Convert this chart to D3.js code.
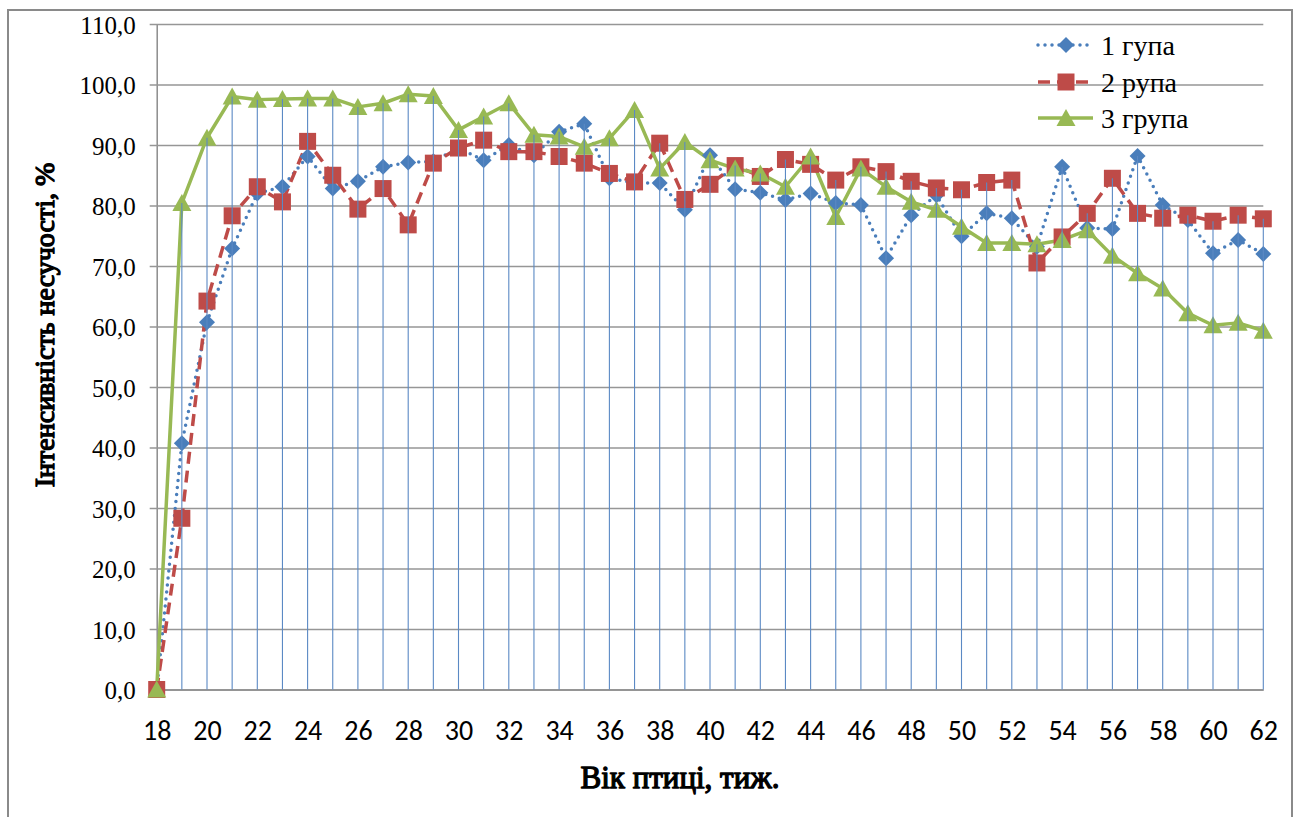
<!DOCTYPE html>
<html>
<head>
<meta charset="utf-8">
<script src="https://cdn.jsdelivr.net/npm/d3@7"></script>
<style>
  html, body { margin: 0; padding: 0; background: #fff; }
  svg { display: block; }
</style>
</head>
<body>
<svg id="chart" width="1298" height="817"></svg>
<script>
// ---- data ----
const weeks = [18,19,20,21,22,23,24,25,26,27,28,29,30,31,32,33,34,35,36,37,38,39,40,
               41,42,43,44,45,46,47,48,49,50,51,52,53,54,55,56,57,58,59,60,61,62];
const xTickLabels = [18,20,22,24,26,28,30,32,34,36,38,40,42,44,46,48,50,52,54,56,58,60,62];
const yTickValues = [0,10,20,30,40,50,60,70,80,90,100,110];
const seriesNames = ["1 гупа", "2 рупа", "3 група"];
const group1 = [0,40.7,60.7,72.9,82.0,83.1,88.1,82.8,84.0,86.4,87.1,87.3,89.5,87.5,90.0,88.3,92.2,93.5,84.5,83.7,83.7,79.3,88.3,
                82.7,82.1,80.9,82.0,80.4,80.1,71.3,78.4,81.7,74.9,78.7,77.9,73.2,86.4,76.3,76.1,88.2,80.1,77.6,72.1,74.3,72.0];
const group2 = [0,28.3,64.2,78.3,83.1,80.6,90.6,85.0,79.4,82.8,76.8,87.0,89.5,90.8,88.9,88.9,88.1,87.0,85.3,83.9,90.3,81.0,83.5,
                86.6,84.8,87.6,86.8,84.2,86.4,85.6,84.0,82.9,82.6,83.8,84.2,70.5,74.8,78.7,84.5,78.7,77.9,78.4,77.4,78.4,77.8];
const group3 = [0,80.4,91.2,98.0,97.5,97.6,97.7,97.7,96.3,96.9,98.4,98.1,92.5,94.7,96.9,91.7,91.4,89.7,91.1,95.8,86.1,90.5,87.5,
                86.1,85.3,83.1,88.1,78.1,86.1,83.1,80.6,79.3,76.5,73.8,73.8,73.6,74.3,75.9,71.7,68.8,66.3,62.2,60.2,60.6,59.3];

const colors = ["#4A7EBB", "#BE4B48", "#98B954"];
const seriesData = [group1, group2, group3];
const SERIF = "Liberation Serif";
const SANS = "Carlito";

// ---- layout ----
const svg = d3.select("#chart");
const L = 156.7, R = 1263.3, T = 24, B = 689.5;
const x = d3.scaleLinear().domain([18, 62]).range([L, R]);
const y = d3.scaleLinear().domain([0, 110]).range([B, T]);

// outer frame
svg.append("rect").attr("x", 8).attr("y", 10).attr("width", 1284).attr("height", 830)
  .attr("fill", "#fff").attr("stroke", "#8a8a8a").attr("stroke-width", 2);

// horizontal gridlines + y axis
const yAxis = d3.axisLeft(y).tickValues(yTickValues)
  .tickSize(-(R - L)).tickSizeOuter(0)
  .tickFormat(d => d3.format(".1f")(d).replace(".", ","));
const gy = svg.append("g").attr("transform", `translate(${L},0)`).call(yAxis);
gy.attr("font-family", null).attr("font-size", null);
gy.select(".domain").attr("stroke", "#8c8c8c").attr("stroke-width", 1.5);
gy.selectAll(".tick line").attr("stroke", "#969696").attr("stroke-width", 1.5).attr("x1", -7);
gy.selectAll(".tick text")
  .style("font-family", SERIF).style("font-size", "25px")
  .attr("x", -21).attr("dy", "0.36em").attr("fill", "#000");

// x axis
const xAxis = d3.axisBottom(x).tickValues(xTickLabels).tickSize(0).tickSizeOuter(0).tickFormat(d => d);
const gx = svg.append("g").attr("transform", `translate(0,${B})`).call(xAxis);
gx.attr("font-family", null).attr("font-size", null);
gx.select(".domain").attr("stroke", "#8c8c8c").attr("stroke-width", 1.5);
gx.selectAll(".tick text")
  .style("font-family", SANS).style("font-size", "28px")
  .attr("y", 50).attr("dy", 0).attr("fill", "#000");

// lines
const line = d3.line().x((d, i) => x(weeks[i])).y(d => y(d));
const dashes = ["0 7", "12 7", null];
seriesData.forEach((s, k) => {
  const p = svg.append("path").datum(s).attr("d", line)
    .attr("fill", "none").attr("stroke", colors[k]).attr("stroke-width", 3.5)
    .attr("stroke-linejoin", "round");
  if (dashes[k]) p.attr("stroke-dasharray", dashes[k]);
  if (k === 0) p.attr("stroke-linecap", "round");
});

// markers
function markerPath(k) {
  if (k === 0) return "M0,-8L8,0L0,8L-8,0Z";
  if (k === 1) return "M-8.5,-8.5H8.5V8.5H-8.5Z";
  return "M0,-9L9.5,8H-9.5Z";
}
seriesData.forEach((s, k) => {
  svg.append("g").selectAll("path").data(s).join("path")
    .attr("transform", (d, i) => `translate(${x(weeks[i])},${y(d)})`)
    .attr("d", markerPath(k))
    .attr("fill", colors[k]);
});

// drop lines (from highest point down to axis)
const maxVals = weeks.map((w, i) => Math.max(group1[i], group2[i], group3[i]));
svg.append("g").selectAll("line").data(weeks.filter((w, i) => maxVals[i] > 0)).join("line")
  .attr("x1", d => x(d)).attr("x2", d => x(d))
  .attr("y1", y(0))
  .attr("y2", d => y(maxVals[weeks.indexOf(d)]))
  .attr("stroke", "#5B89C4").attr("stroke-width", 1.1);

// legend
const lg = svg.append("g");
const legendY = [45, 82, 118];
seriesNames.forEach((name, k) => {
  const p = lg.append("line").attr("x1", 1038).attr("x2", 1093)
    .attr("y1", legendY[k]).attr("y2", legendY[k])
    .attr("stroke", colors[k]).attr("stroke-width", 3.5);
  if (dashes[k]) p.attr("stroke-dasharray", dashes[k]);
  if (k === 0) p.attr("stroke-linecap", "round");
  lg.append("path").attr("transform", `translate(1066,${legendY[k]})`)
    .attr("d", markerPath(k)).attr("fill", colors[k]);
  lg.append("text").style("font-family", SERIF).style("font-size", "28px")
    .attr("x", 1101).attr("y", legendY[k] + 10).attr("fill", "#000").text(name);
});

// axis titles (bold look via stroke on the serif face)
function boldText(sel) {
  return sel.style("font-family", SERIF).style("font-weight", "normal")
    .attr("fill", "#000").attr("stroke", "#000").attr("stroke-width", 1.3)
    .attr("stroke-linejoin", "round");
}
boldText(svg.append("text").attr("transform", "translate(54,325) rotate(-90)")
  .attr("text-anchor", "middle").style("font-size", "28px")
  .text("Інтенсивність несучості,  %"));
boldText(svg.append("text").attr("x", 680).attr("y", 788)
  .attr("text-anchor", "middle").style("font-size", "31px")
  .text("Вік птиці, тиж."));
</script>
</body>
</html>
